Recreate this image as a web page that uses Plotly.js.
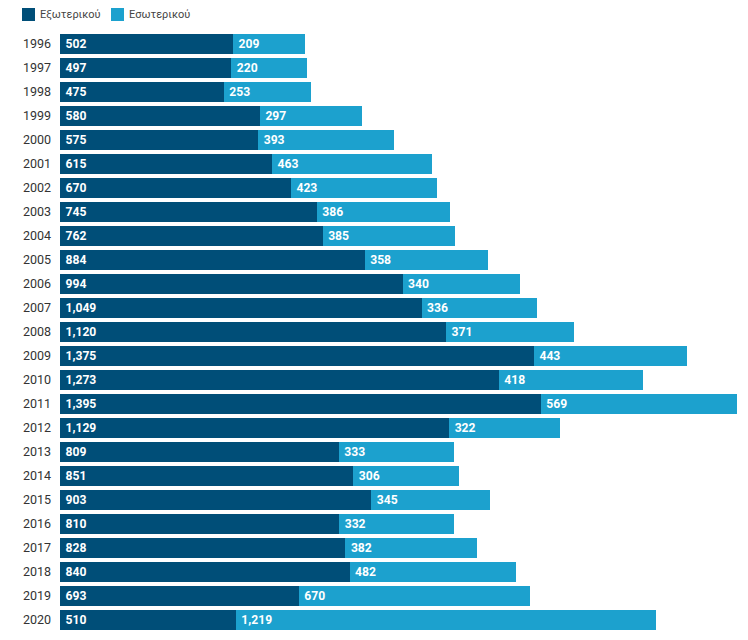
<!DOCTYPE html>
<html><head><meta charset="utf-8">
<script src="https://cdn.plot.ly/plotly-3.0.1.min.js"></script>
<style>html,body{margin:0;padding:0;background:#fff}</style>
</head><body><div id="chart" style="width:748px;height:640px"></div>
<script>
const years = ["1996","1997","1998","1999","2000","2001","2002","2003","2004","2005","2006","2007","2008","2009","2010","2011","2012","2013","2014","2015","2016","2017","2018","2019","2020"];
const exterior = [502,497,475,580,575,615,670,745,762,884,994,1049,1120,1375,1273,1395,1129,809,851,903,810,828,840,693,510];
const interior = [209,220,253,297,393,463,423,386,385,358,340,336,371,443,418,569,322,333,306,345,332,382,482,670,1219];
const seriesNames = ['Εξωτερικού', 'Εσωτερικού'];
const colors = ['#004e78', '#1ca1ce'];

const W = 748, H = 640, M = {l: 60, r: 11, t: 32, b: 8};
const pw = W - M.l - M.r, ph = H - M.t - M.b;
const px2x = p => (p - M.l) / pw;
const px2y = p => 1 - (p - M.t) / ph;

const common = {
  type: 'bar', orientation: 'h', y: years,
  textposition: 'inside', insidetextanchor: 'start',
  texttemplate: '\u2009%{x:,}',
  textfont: {family: 'Roboto', size: 13, color: '#ffffff', weight: 'bold'},
  hoverinfo: 'none', cliponaxis: false, showlegend: false
};
const data = [
  Object.assign({}, common, {name: seriesNames[0], x: exterior, marker: {color: colors[0]}}),
  Object.assign({}, common, {name: seriesNames[1], x: interior, marker: {color: colors[1]}})
];

// custom legend (square + label)
const legendItems = [{sq: 22, tx: 39}, {sq: 111, tx: 128}];
const shapes = legendItems.map((it, i) => ({
  type: 'rect', xref: 'paper', yref: 'paper', layer: 'above',
  x0: px2x(it.sq), x1: px2x(it.sq + 13), y0: px2y(21), y1: px2y(8),
  fillcolor: colors[i], line: {width: 0}
}));
const annotations = legendItems.map((it, i) => ({
  xref: 'paper', yref: 'paper', x: px2x(it.tx - 1), y: px2y(14.5),
  xanchor: 'left', yanchor: 'middle', showarrow: false,
  text: seriesNames[i], font: {family: 'Roboto', size: 11, color: '#444'}
}));

const layout = {
  width: W, height: H, margin: M,
  barmode: 'stack', bargap: 0.167,
  paper_bgcolor: '#fff', plot_bgcolor: '#fff',
  font: {family: 'Roboto', size: 12, color: '#333'},
  showlegend: false, shapes, annotations,
  xaxis: {range: [0, 1964], visible: false, fixedrange: true},
  yaxis: {autorange: 'reversed', type: 'category', showgrid: false, zeroline: false, showline: false,
    ticks: '', ticklabelstandoff: 8, tickfont: {family: 'Roboto', size: 12.5, color: '#333'}, fixedrange: true}
};
Plotly.newPlot('chart', data, layout, {displayModeBar: false, staticPlot: true});
</script></body></html>
